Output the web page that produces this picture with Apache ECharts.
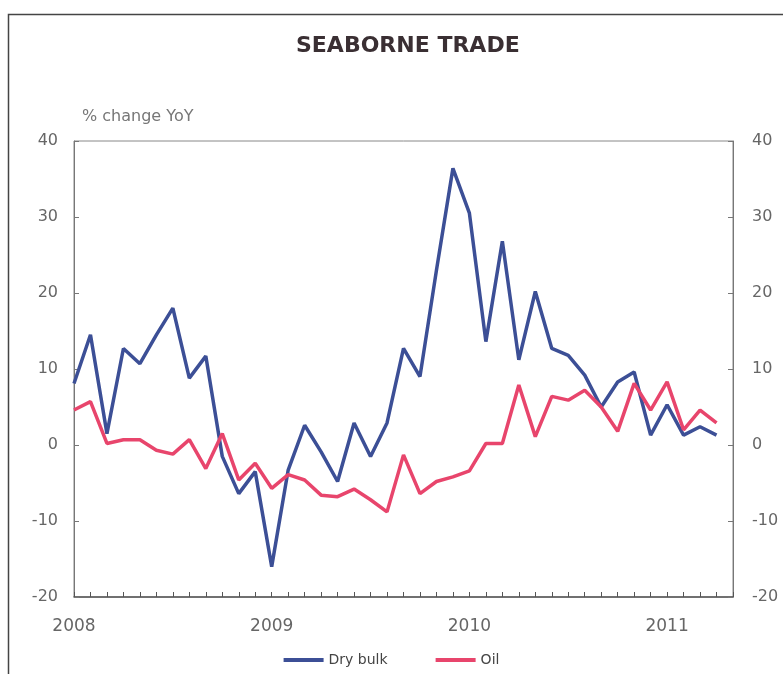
<!DOCTYPE html>
<html>
<head>
<meta charset="utf-8">
<script src="https://cdn.jsdelivr.net/npm/echarts@6/dist/echarts.min.js"></script>
<style>
  html, body { margin: 0; padding: 0; background: #fff; }
  #chart { width: 783px; height: 674px; }
</style>
</head>
<body>
<div id="chart"></div>
<script>
// months Jan 2008 .. May 2011 (last one empty, axis runs a bit past the data)
var months = [];
for (var y = 2008; y <= 2011; y++) {
  for (var m = 1; m <= 12; m++) {
    if (y === 2011 && m > 5) break;
    months.push(y + '-' + (m < 10 ? '0' + m : m));
  }
}
var yearLabels = { 0: '2008', 12: '2009', 24: '2010', 36: '2011' };

// % change YoY
var dryBulk = [8.1, 14.5, 1.5, 12.7, 10.7, 14.5, 18.0, 8.8, 11.7, -1.5,
  -6.4, -3.5, -16.0, -3.3, 2.6, -0.9, -4.8, 2.9, -1.5, 2.9,
  12.7, 9.0, 23.0, 36.4, 30.5, 13.6, 26.8, 11.2, 20.2, 12.7,
  11.8, 9.2, 5.0, 8.3, 9.6, 1.3, 5.3, 1.3, 2.4, 1.3];
var oil = [4.6, 5.7, 0.2, 0.7, 0.7, -0.7, -1.2, 0.7, -3.1, 1.5,
  -4.6, -2.4, -5.7, -3.9, -4.6, -6.6, -6.8, -5.8, -7.2, -8.8,
  -1.3, -6.4, -4.8, -4.2, -3.4, 0.2, 0.2, 7.9, 1.1, 6.4,
  5.9, 7.2, 5.0, 1.8, 8.1, 4.6, 8.3, 2.0, 4.6, 2.9];

var chart = echarts.init(document.getElementById('chart'));
var font = 'DejaVu Sans';

function yAxis(pos, margin) {
  return {
    type: 'value',
    position: pos,
    min: -20,
    max: 40,
    interval: 10,
    splitLine: { show: false },
    axisLine: { show: true, lineStyle: { color: '#777', width: 1 } },
    axisTick: { show: true, inside: true, length: 5, lineStyle: { color: '#777' } },
    axisLabel: { color: '#666', fontSize: 16, fontFamily: font, margin: margin }
  };
}

chart.setOption({
  animation: false,
  graphic: [{
    type: 'rect',
    shape: { x: 8.5, y: 14.5, width: 800, height: 700 },
    style: { fill: 'none', stroke: '#444', lineWidth: 1.5 }
  }],
  title: [{
    text: 'SEABORNE TRADE',
    left: 291,
    top: 30,
    textStyle: { fontSize: 22, fontWeight: 'bold', color: '#3a2f33', fontFamily: font }
  }, {
    text: '% change YoY',
    left: 77,
    top: 104,
    textStyle: { fontSize: 16, fontWeight: 'normal', color: '#777', fontFamily: font }
  }],
  legend: {
    top: 648,
    left: 'center',
    icon: 'rect',
    itemWidth: 40,
    itemHeight: 4,
    itemGap: 48,
    textStyle: { fontSize: 14, color: '#444', fontFamily: font },
    data: ['Dry bulk', 'Oil']
  },
  grid: {
    left: 74, right: 50, top: 141, bottom: 77,
    show: true, borderColor: '#888', borderWidth: 1
  },
  xAxis: {
    type: 'category',
    data: months,
    boundaryGap: false,
    axisLine: { onZero: false, lineStyle: { color: '#555', width: 1.5 } },
    axisTick: { inside: true, interval: 0, length: 5, lineStyle: { color: '#555' } },
    axisLabel: {
      interval: 0,
      color: '#666',
      fontSize: 17,
      fontFamily: font,
      margin: 21,
      formatter: function (v, i) { return yearLabels[i] || ''; }
    }
  },
  yAxis: [yAxis('left', 16), yAxis('right', 19)],
  series: [{
    name: 'Dry bulk',
    type: 'line',
    data: dryBulk,
    showSymbol: false,
    lineStyle: { color: '#3c4f96', width: 3.5 },
    itemStyle: { color: '#3c4f96' }
  }, {
    name: 'Oil',
    type: 'line',
    data: oil,
    showSymbol: false,
    lineStyle: { color: '#e8456c', width: 3.5 },
    itemStyle: { color: '#e8456c' }
  }]
});
</script>
</body>
</html>
